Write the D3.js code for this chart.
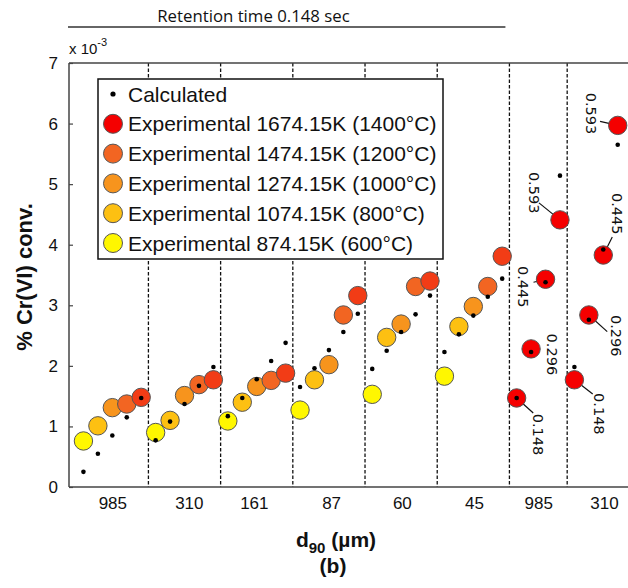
<!DOCTYPE html>
<html>
<head>
<meta charset="utf-8">
<script src="https://cdn.jsdelivr.net/npm/d3@7"></script>
<style>
  html, body { margin: 0; padding: 0; background: #fff; }
  svg { display: block; }
</style>
</head>
<body>
<svg id="chart" width="628" height="588"></svg>
<script>
// ---------------- DATA ----------------
// Section 1: retention time 0.148 s, five temperatures per particle size
const sizes1 = ["985", "310", "161", "87", "60", "45"];
const temps = ["600", "800", "1000", "1200", "1400"];
const exp600  = [0.76, 0.90, 1.09, 1.27, 1.53, 1.83];
const exp800  = [1.01, 1.10, 1.40, 1.77, 2.47, 2.65];
const exp1000 = [1.31, 1.51, 1.66, 2.02, 2.69, 2.98];
const exp1200 = [1.37, 1.69, 1.76, 2.84, 3.31, 3.31];
const exp1400 = [1.48, 1.77, 1.88, 3.16, 3.40, 3.81];
const calc600  = [0.25, 0.77, 1.17, 1.65, 1.95, 2.23];
const calc800  = [0.55, 1.08, 1.47, 1.96, 2.25, 2.52];
const calc1000 = [0.85, 1.37, 1.78, 2.26, 2.56, 2.83];
const calc1200 = [1.15, 1.67, 2.08, 2.56, 2.85, 3.14];
const calc1400 = [1.47, 1.98, 2.38, 2.86, 3.16, 3.44];

// Section 2: 1400 °C, four retention times per particle size
const sizes2 = ["985", "310"];
const retention = ["0.148", "0.296", "0.445", "0.593"];
const expRt985  = [1.47, 2.28, 3.43, 4.41];
const calcRt985 = [1.47, 2.23, 3.38, 5.14];
const expRt310  = [1.77, 2.84, 3.83, 5.97];
const calcRt310 = [1.98, 2.76, 3.92, 5.65];

// Axis tick labels
const xTickLabels = ["985", "310", "161", "87", "60", "45", "985", "310"];
const xTickPos = [2, 7.3, 11.8, 17.15, 22.05, 27.05, 31.5, 36.05];
const yTicks = [0, 1, 2, 3, 4, 5, 6, 7];

const legendLabels = [
  "Calculated",
  "Experimental 1674.15K (1400\u00B0C)",
  "Experimental 1474.15K (1200\u00B0C)",
  "Experimental 1274.15K (1000\u00B0C)",
  "Experimental 1074.15K (800\u00B0C)",
  "Experimental 874.15K (600\u00B0C)"
];

// ---------------- STYLE ----------------
const colors = {"600": "#fff700", "800": "#fdc012", "1000": "#f7941d", "1200": "#f26522", "1400": "#f23c16"};
const red = "#f50000";
const sans = "'Liberation Sans', Arial, Helvetica, sans-serif";

// ---------------- BUILD ----------------
const svg = d3.select("#chart");
const x = d3.scaleLinear().domain([-1, 39]).range([69, 69 + 40 * 14.44]);
const y = d3.scaleLinear().domain([0, 7]).range([487, 63]);

const expSeries = [exp600, exp800, exp1000, exp1200, exp1400];
const calcSeries = [calc600, calc800, calc1000, calc1200, calc1400];

const pts1 = [];
sizes1.forEach((s, g) => {
  temps.forEach((t, k) => {
    pts1.push({idx: g * 5 + k, exp: expSeries[k][g], calc: calcSeries[k][g], color: colors[t]});
  });
});
const off2 = sizes1.length * temps.length;
const pts2 = [];
[[expRt985, calcRt985], [expRt310, calcRt310]].forEach((pair, g) => {
  retention.forEach((r, k) => {
    pts2.push({idx: off2 + g * 4 + k, exp: pair[0][k], calc: pair[1][k], color: red, label: r, key: g + "_" + k});
  });
});

// group separators
const seps = [];
for (let g = 1; g <= sizes1.length; g++) seps.push(g * temps.length - 0.5);
for (let g = 1; g < sizes2.length; g++) seps.push(off2 + g * retention.length - 0.5);

const yTop = y(7), yBot = y(0);

// dashed separators
svg.append("g").selectAll("line").data(seps).join("line")
  .attr("x1", d => x(d)).attr("x2", d => x(d))
  .attr("y1", yTop).attr("y2", yBot)
  .attr("stroke", "#111").attr("stroke-width", 1.3).attr("stroke-dasharray", "3.5,2");

// frame
const frame = svg.append("g").attr("stroke", "#444").attr("stroke-width", 1.5).attr("fill", "none");
frame.append("line").attr("x1", x(-1)).attr("x2", x(-1)).attr("y1", yTop).attr("y2", yBot);
frame.append("line").attr("x1", x(-1)).attr("x2", x(39)).attr("y1", yBot).attr("y2", yBot);
frame.append("line").attr("x1", x(-1)).attr("x2", x(39)).attr("y1", yTop).attr("y2", yTop);

// y axis
const yAxis = svg.append("g").attr("transform", `translate(${x(-1)},0)`)
  .call(d3.axisLeft(y).tickValues(yTicks).tickSize(-4).tickPadding(11).tickFormat(d3.format("d")));
yAxis.select(".domain").remove();
yAxis.selectAll(".tick line").attr("stroke", "#444").attr("stroke-width", 1.2);
yAxis.selectAll("text").attr("font-family", sans).attr("font-size", 17).attr("fill", "#111");

// x axis labels
const xAxis = svg.append("g").attr("transform", `translate(0,${yBot})`)
  .call(d3.axisBottom(x).tickValues(xTickPos).tickSize(0).tickPadding(10)
    .tickFormat((d, i) => xTickLabels[i]));
xAxis.select(".domain").remove();
xAxis.selectAll("text").attr("font-family", sans).attr("font-size", 17).attr("fill", "#111");

// leader lines + labels for section 2 (offsets in px from circle centre)
const annot = {
  "0_0": {lx: 21.6, ly: 15.7, ex: 16.6, ey: 15},
  "0_1": {lx: 21, ly: -15.3, ex: null, ey: null},
  "0_2": {lx: -22.7, ly: -13.3, ex: -12, ey: 3},
  "0_3": {lx: -26, ly: -48, ex: -21, ey: -17},
  "1_0": {lx: 25, ly: 13.3, ex: 18.3, ey: 14.3},
  "1_1": {lx: 27.4, ly: 0, ex: 18.4, ey: 16.7},
  "1_2": {lx: 14.3, ly: -62, ex: 9, ey: -18},
  "1_3": {lx: -26.7, ly: -32.7, ex: -17.7, ey: -4}
};
const ann = svg.append("g");
pts2.forEach(p => {
  const a = annot[p.key];
  const cx = x(p.idx), cy = y(p.exp);
  if (a.ex !== null) {
    ann.append("line").attr("x1", cx).attr("y1", cy).attr("x2", cx + a.ex).attr("y2", cy + a.ey)
      .attr("stroke", "#111").attr("stroke-width", 1.2);
  }
  ann.append("text")
    .attr("transform", `translate(${cx + a.lx},${cy + a.ly}) rotate(90)`)
    .attr("dy", "0.36em")
    .attr("font-family", "'DejaVu Sans', Verdana, sans-serif").attr("font-size", 14.5).attr("fill", "#111")
    .text(p.label);
});

// experimental circles
const allPts = pts1.concat(pts2);
svg.append("g").selectAll("circle").data(allPts).join("circle")
  .attr("cx", d => x(d.idx)).attr("cy", d => y(d.exp)).attr("r", 9.2)
  .attr("fill", d => d.color).attr("stroke", "#555").attr("stroke-width", 1);

// calculated dots
svg.append("g").selectAll("circle").data(allPts).join("circle")
  .attr("cx", d => x(d.idx)).attr("cy", d => y(d.calc)).attr("r", 2.3).attr("fill", "#000");

// legend
const lg = svg.append("g");
lg.append("rect").attr("x", 98).attr("y", 79).attr("width", 345).attr("height", 180)
  .attr("fill", "#fff").attr("stroke", "#111").attr("stroke-width", 1.5);
const legColors = [null, red, colors["1200"], colors["1000"], colors["800"], colors["600"]];
legendLabels.forEach((lab, i) => {
  const cy = 94 + i * 29.8;
  if (i === 0) {
    lg.append("circle").attr("cx", 113).attr("cy", cy).attr("r", 2.6).attr("fill", "#000");
  } else {
    lg.append("circle").attr("cx", 113).attr("cy", cy).attr("r", 9.5)
      .attr("fill", legColors[i]).attr("stroke", "#555").attr("stroke-width", 1);
  }
  lg.append("text").attr("x", 128).attr("y", cy).attr("dy", "0.36em")
    .attr("font-family", sans).attr("font-size", 21).attr("fill", "#111").text(lab);
});

// exponent label
const ex = svg.append("text").attr("x", x(-1)).attr("y", 54)
  .attr("font-family", sans).attr("font-size", 15).attr("fill", "#111");
ex.append("tspan").text("x 10");
ex.append("tspan").attr("dy", -8).attr("font-size", 11).text("-3");

// y axis title
svg.append("text").attr("transform", "translate(24,277) rotate(-90)")
  .attr("text-anchor", "middle").attr("dy", "0.36em")
  .attr("font-family", sans).attr("font-weight", "bold").attr("font-size", 22).attr("fill", "#111")
  .text("% Cr(VI) conv.");

// x axis title
const xt = svg.append("text").attr("x", 336).attr("y", 547).attr("text-anchor", "middle")
  .attr("font-family", sans).attr("font-weight", "bold").attr("font-size", 21).attr("fill", "#111");
xt.append("tspan").text("d");
xt.append("tspan").attr("dy", 6).attr("font-size", 15).text("90");
xt.append("tspan").attr("dy", -6).text(" (\u00B5m)");

svg.append("text").attr("x", 333).attr("y", 573).attr("text-anchor", "middle")
  .attr("font-family", sans).attr("font-weight", "bold").attr("font-size", 21).attr("fill", "#111")
  .text("(b)");

// top bracket: retention time
const sec1End = x(sizes1.length * temps.length - 0.5);
svg.append("line").attr("x1", x(-1) - 1).attr("x2", sec1End - 4).attr("y1", 27).attr("y2", 27)
  .attr("stroke", "#333").attr("stroke-width", 1.6);
svg.append("text").attr("x", 253.5).attr("y", 22).attr("text-anchor", "middle")
  .attr("font-family", "'Open Sans', sans-serif").attr("font-size", 16.8).attr("fill", "#111")
  .text("Retention time 0.148 sec");
</script>
</body>
</html>
